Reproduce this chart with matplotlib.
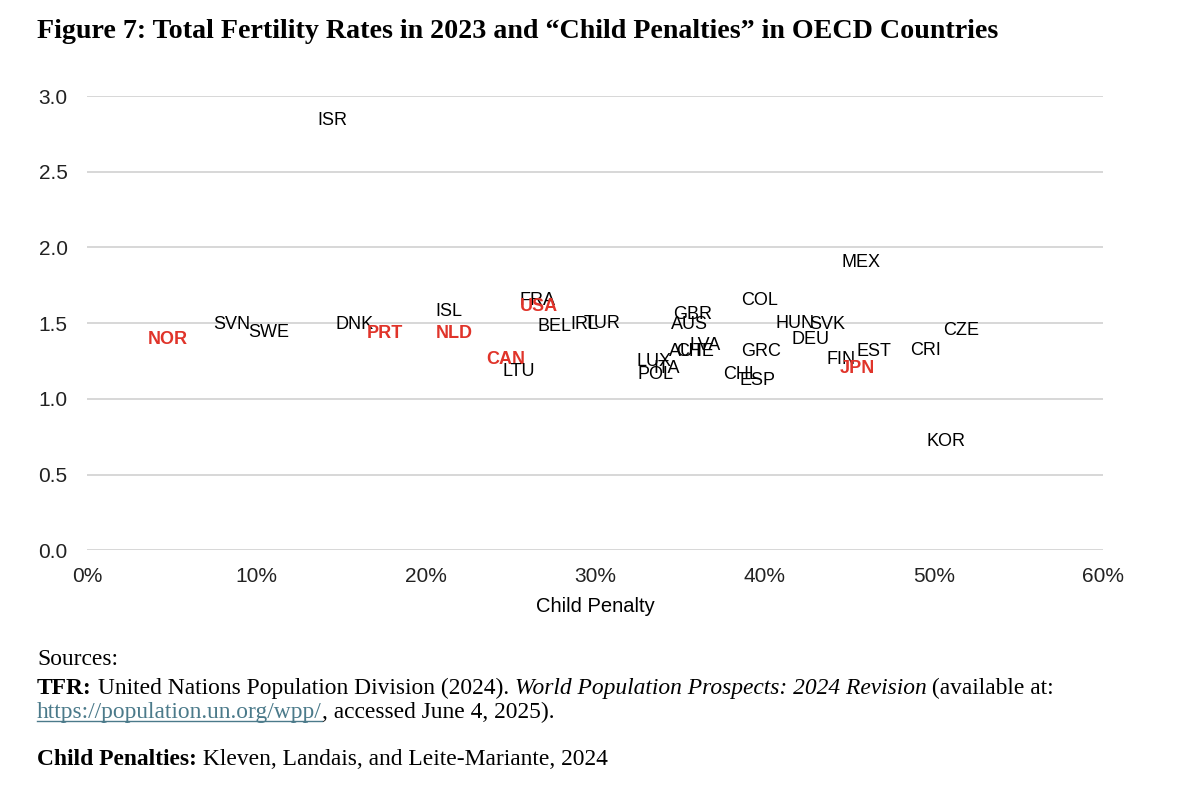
import matplotlib
matplotlib.use('Agg')
import matplotlib.pyplot as plt
from matplotlib.ticker import PercentFormatter

# data (child penalty in %, total fertility rate 2023)
countries = ['ISR', 'NOR', 'SVN', 'SWE', 'DNK', 'PRT', 'ISL', 'NLD', 'FRA', 'USA',
             'BEL', 'IRL', 'TUR', 'CAN', 'LTU', 'GBR', 'AUS', 'LVA', 'AUT', 'CHE',
             'LUX', 'ITA', 'POL', 'CHL', 'ESP', 'GRC', 'COL', 'HUN', 'SVK', 'DEU',
             'FIN', 'JPN', 'EST', 'CRI', 'CZE', 'MEX', 'KOR']
penalty = [14.5, 4.8, 8.55, 10.75, 15.8, 17.6, 21.35, 21.7, 26.6, 26.7,
           27.6, 29.4, 30.4, 24.7, 25.5, 35.75, 35.6, 36.5, 35.4, 35.9,
           33.5, 34.2, 33.6, 38.6, 39.6, 39.8, 39.7, 41.8, 43.7, 42.7,
           44.5, 45.5, 46.5, 49.5, 51.6, 45.7, 50.7]
tfr = [2.84, 1.39, 1.49, 1.44, 1.49, 1.43, 1.58, 1.43, 1.65, 1.61,
       1.48, 1.49, 1.50, 1.26, 1.18, 1.56, 1.49, 1.35, 1.31, 1.31,
       1.25, 1.20, 1.16, 1.16, 1.12, 1.31, 1.65, 1.50, 1.49, 1.39,
       1.26, 1.20, 1.31, 1.32, 1.45, 1.90, 0.72]
highlight = ['NOR', 'PRT', 'NLD', 'USA', 'CAN', 'JPN']

fig = plt.figure(figsize=(12, 7.94), dpi=100)
ax = fig.add_axes([0.0725, 0.307, 0.8467, 0.572])

for name, x, y in zip(countries, penalty, tfr):
    if name in highlight:
        ax.text(x, y, name, ha='center', va='center', fontsize=13,
                fontweight='bold', color='#e0342a', family='Liberation Sans')
    else:
        ax.text(x, y, name, ha='center', va='center', fontsize=13,
                color='black', family='Liberation Sans')

ax.set_xlim(0, 60)
ax.set_ylim(0, 3.0)
ax.set_xticks(range(0, 61, 10))
ax.set_yticks([0, 0.5, 1.0, 1.5, 2.0, 2.5, 3.0])
ax.xaxis.set_major_formatter(PercentFormatter(decimals=0))
ax.yaxis.set_major_formatter(lambda v, p: f'{v:.1f}')
ax.grid(axis='y', color='#d4d4d4', linewidth=1.3)
ax.set_axisbelow(True)
for s in ax.spines.values():
    s.set_visible(False)
ax.tick_params(length=0, labelsize=15, colors='#222222')
ax.tick_params(axis='x', pad=12)
ax.tick_params(axis='y', pad=14)
for lab in ax.get_xticklabels() + ax.get_yticklabels():
    lab.set_family('Liberation Sans')
ax.set_xlabel('Child Penalty', fontsize=14.5, family='Liberation Sans', labelpad=8)

fig.text(0.031, 1 - 32 / 794, 'Figure 7: Total Fertility Rates in 2023 and \u201cChild Penalties\u201d in OECD Countries',
         fontsize=20.2, fontweight='bold', family='Liberation Serif', va='center')

# footer with mixed styles, pieces placed one after another
renderer = fig.canvas.get_renderer()

def line(pieces, y):
    x = 37
    for txt, kw in pieces:
        t = fig.text(x / 1200, 1 - y / 794, txt, fontsize=16.9, family='Liberation Serif',
                     va='baseline', **kw)
        bb = t.get_window_extent(renderer)
        if kw.get('color') == '#4b7a8a':
            fig.add_artist(plt.Line2D([bb.x0 / 1200, bb.x1 / 1200],
                                      [(794 - y - 3) / 794] * 2, color='#4b7a8a', lw=1))
        x = bb.x1

line([('Sources:', {})], 665)
line([('TFR:', {'fontweight': 'bold'}), (' United Nations Population Division (2024). ', {}),
      ('World Population Prospects: 2024 Revision', {'style': 'italic'}),
      (' (available at:', {})], 694)
line([('https://population.un.org/wpp/', {'color': '#4b7a8a'}),
      (', accessed June 4, 2025).', {})], 718)
line([('Child Penalties:', {'fontweight': 'bold'}),
      (' Kleven, Landais, and Leite-Mariante, 2024', {})], 765)

fig.savefig('out.png', dpi=100)
